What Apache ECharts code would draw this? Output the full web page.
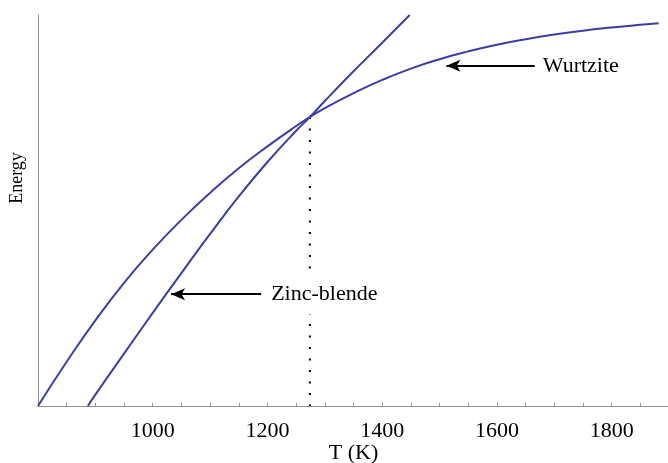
<!DOCTYPE html>
<html>
<head>
<meta charset="utf-8">
<script src="https://cdn.jsdelivr.net/npm/echarts@6/dist/echarts.min.js"></script>
<style>
html,body{margin:0;padding:0;background:#fff;}
#c{width:668px;height:463px;}
</style>
</head>
<body>
<div id="c"></div>
<script>
// Temperature (K) and energy (arbitrary units, 0-100 = bottom-top of plot)
const wurtziteT = [800,850,900,950,1000,1050,1100,1150,1200,1250,1274,1300,1350,1400,1450,1500,1550,1600,1650,1700,1750,1800,1850,1882];
const wurtziteE = [0,11.3,21.9,31.5,40.0,47.6,54.5,60.8,66.4,71.6,73.9,76.2,80.0,83.4,86.3,88.7,90.7,92.4,93.8,95.0,96.0,96.8,97.5,97.9];
const zincT = [887,900,950,1000,1050,1100,1150,1200,1250,1274,1300,1350,1400,1448];
const zincE = [0,2.9,13.4,23.8,34.0,44.0,53.6,62.4,70.4,73.9,78.0,85.6,92.9,100];
const transitionT = 1274;
const transitionE = 73.9;
const xTickLabels = [1000,1200,1400,1600,1800];
const wurtziteArrow = {from:1512, to:1666, e:87.0, text:'Wurtzite'};
const zincArrow = {from:1032, to:1189, e:28.6, text:'Zinc-blende'};

const FONT = 'Liberation Serif, Times New Roman, serif';
const CURVE = '#3d3da6';

function pairs(xs, ys){ return xs.map((x,i)=>[x, ys[i]]); }

const chart = echarts.init(document.getElementById('c'), null, {renderer:'canvas'});

function arrowLine(a, bg){
  return [
    {coord:[a.from, a.e]},
    {coord:[a.to, a.e], label:{
      show:true, position:'end', distance:8, formatter:a.text,
      color:'#000', fontFamily:FONT, fontSize:22,
      backgroundColor: bg ? '#fff' : 'transparent', padding: bg ? [9,2,9,2] : 0
    }}
  ];
}

chart.setOption({
  animation:false,
  backgroundColor:'#fff',
  grid:{left:38, top:15, width:631, height:391, containLabel:false, outerBoundsMode:'none'},
  xAxis:{
    type:'value', min:800, max:1900, interval:50,
    name:'T (K)', nameLocation:'middle', nameGap:36, nameMoveOverlap:false,
    nameTextStyle:{fontFamily:FONT, fontSize:22, color:'#000'},
    axisLine:{show:true, onZero:false, lineStyle:{color:'#8f8f8f', width:1}},
    axisTick:{show:true, inside:true, length:3, lineStyle:{color:'#8f8f8f'}},
    axisLabel:{
      margin:14, fontFamily:FONT, fontSize:22, color:'#000',
      showMinLabel:false, showMaxLabel:false,
      formatter:v => xTickLabels.indexOf(v) >= 0 ? String(v) : ''
    },
    splitLine:{show:false}
  },
  yAxis:{
    type:'value', min:0, max:100,
    axisLine:{show:true, onZero:false, lineStyle:{color:'#8f8f8f', width:1}},
    axisTick:{show:false}, axisLabel:{show:false}, splitLine:{show:false}
  },
  graphic:[{
    type:'text', x:17, y:178, rotation:Math.PI/2,
    style:{text:'Energy', fontFamily:FONT, fontSize:18, fill:'#000', textAlign:'center', textVerticalAlign:'middle'}
  }],
  series:[
    {
      name:'transition', type:'line', z:1, symbol:'none', silent:true,
      data:[[transitionT, transitionE],[transitionT, 0]],
      lineStyle:{color:'#000', width:2, type:[2,9.5]}
    },
    {
      name:'Wurtzite', type:'line', z:3, symbol:'none', smooth:0.5,
      data:pairs(wurtziteT, wurtziteE),
      lineStyle:{color:CURVE, width:2}
    },
    {
      name:'Zinc-blende', type:'line', z:3, symbol:'none', smooth:0.5,
      data:pairs(zincT, zincE),
      lineStyle:{color:CURVE, width:2}
    },
    {
      name:'annotations', type:'line', z:5, data:[], symbol:'none',
      markLine:{
        silent:true, animation:false,
        symbol:['arrow','none'], symbolSize:[9,14],
        lineStyle:{color:'#000', width:2, type:'solid'},
        emphasis:{disabled:true},
        data:[arrowLine(wurtziteArrow,false), arrowLine(zincArrow,true)]
      }
    }
  ]
});
</script>
</body>
</html>
